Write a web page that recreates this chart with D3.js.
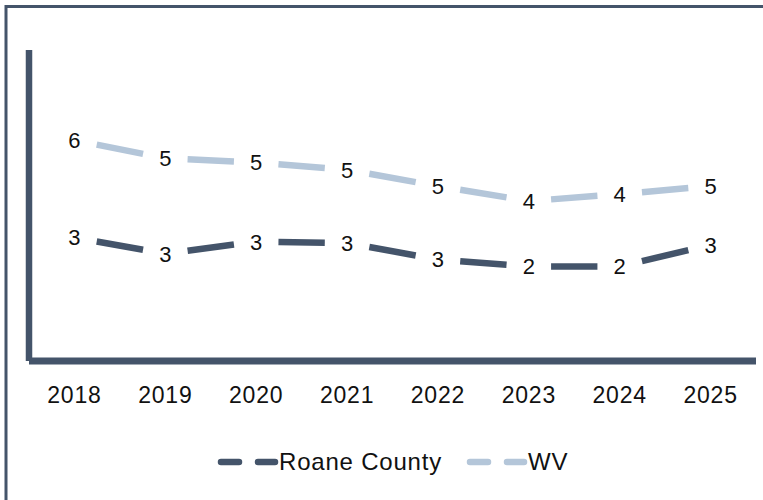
<!DOCTYPE html>
<html>
<head>
<meta charset="utf-8">
<script src="https://cdn.jsdelivr.net/npm/d3@7"></script>
<style>
  body { margin: 0; background: #fff; }
  svg { display: block; font-family: "Liberation Sans", Arial, sans-serif; }
</style>
</head>
<body>
<svg width="763" height="500"></svg>
<script>
var years = ['2018', '2019', '2020', '2021', '2022', '2023', '2024', '2025']
var roane = [3.19, 2.75, 3.08, 3.04, 2.59, 2.40, 2.40, 2.99]
var wv = [5.86, 5.36, 5.25, 5.05, 4.60, 4.19, 4.38, 4.60]
var seriesNames = ['Roane County', 'WV']

var dark = '#44546a'
var light = '#b4c6d9'
var series = [
  { name: seriesNames[0], values: roane, color: dark },
  { name: seriesNames[1], values: wv, color: light }
]

var svg = d3.select('svg')
var plotLeft = 29, plotRight = 756, plotTop = 50, plotBottom = 360

var x = d3.scalePoint().domain(years).range([plotLeft, plotRight]).padding(0.5)
var y = d3.scaleLinear().domain([0, 8]).range([354, 62])

// outer frame (chart area border, cropped)
svg.append('path')
  .attr('d', 'M6,500V6.5H770')
  .attr('fill', 'none')
  .attr('stroke', dark)
  .attr('stroke-width', 3)

// axes lines
svg.append('line')
  .attr('x1', plotLeft).attr('x2', plotLeft)
  .attr('y1', plotTop).attr('y2', plotBottom + 1)
  .attr('stroke', dark).attr('stroke-width', 6.5)
svg.append('line')
  .attr('x1', plotLeft).attr('x2', plotRight)
  .attr('y1', plotBottom + 1).attr('y2', plotBottom + 1)
  .attr('stroke', dark).attr('stroke-width', 7)

// category labels
svg.append('g')
  .selectAll('text')
  .data(years)
  .join('text')
  .attr('x', function (d) { return x(d) })
  .attr('y', 403)
  .attr('text-anchor', 'middle')
  .attr('font-size', 23)
  .attr('letter-spacing', 0.8)
  .attr('fill', '#111')
  .text(function (d) { return d })

// series: one dash per interval, gap at each point for the label
var trim = 0.245
series.forEach(function (s) {
  var pts = years.map(function (yr, i) { return [x(yr), y(s.values[i])] })
  var segs = d3.pairs(pts)
  var g = svg.append('g')
  g.selectAll('line')
    .data(segs)
    .join('line')
    .attr('x1', function (d) { return d3.interpolate(d[0], d[1])(trim)[0] })
    .attr('y1', function (d) { return d3.interpolate(d[0], d[1])(trim)[1] })
    .attr('x2', function (d) { return d3.interpolate(d[0], d[1])(1 - trim)[0] })
    .attr('y2', function (d) { return d3.interpolate(d[0], d[1])(1 - trim)[1] })
    .attr('stroke', s.color)
    .attr('stroke-width', 6.5)

  g.selectAll('text')
    .data(pts)
    .join('text')
    .attr('x', function (d) { return d[0] })
    .attr('y', function (d) { return d[1] })
    .attr('dy', '0.36em')
    .attr('text-anchor', 'middle')
    .attr('font-size', 22)
    .attr('fill', '#111')
    .text(function (d, i) { return d3.format('.0f')(s.values[i]) })
})

// legend
var legendX = [218, 467]
var legend = svg.append('g')
series.forEach(function (s, i) {
  legend.append('line')
    .attr('x1', legendX[i] + 3).attr('x2', legendX[i] + 57)
    .attr('y1', 462).attr('y2', 462)
    .attr('stroke', s.color)
    .attr('stroke-width', 6.5)
    .attr('stroke-linecap', 'round')
    .attr('stroke-dasharray', '18 19')
  legend.append('text')
    .attr('x', legendX[i] + 61)
    .attr('y', 470)
    .attr('font-size', 24)
    .attr('letter-spacing', 0.8)
    .attr('fill', '#111')
    .text(s.name)
})
</script>
</body>
</html>
